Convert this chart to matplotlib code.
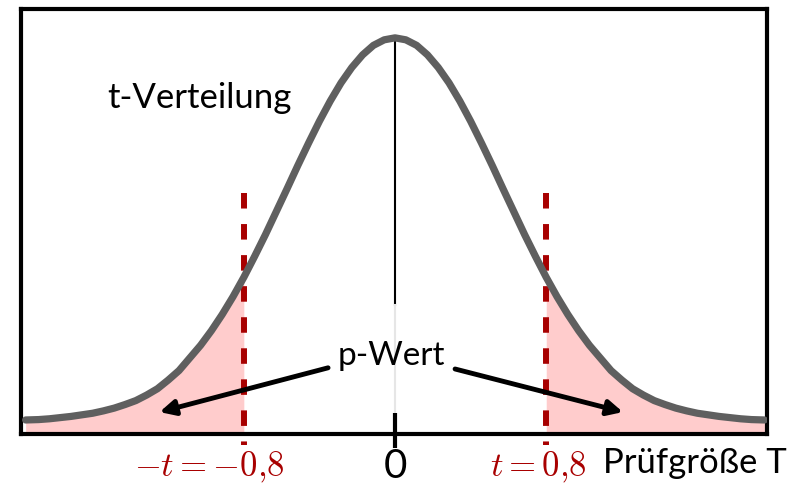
import numpy as np
import matplotlib
matplotlib.use("Agg")
import matplotlib.pyplot as plt

plt.rcParams["mathtext.fontset"] = "cm"
plt.rcParams["font.family"] = ["Lato", "DejaVu Sans"]

# sampling positions (right half, symmetric curve) and density
t_half = [0.0, 0.1, 0.2, 0.3, 0.4, 0.5, 0.6, 0.7, 0.8, 0.9, 1.0, 1.1, 1.2,
          1.3, 1.4, 1.5, 1.6, 1.7, 1.8, 1.9, 2.0, 2.1, 2.2, 2.3, 2.4, 2.5,
          2.6, 2.7, 2.8, 2.9, 3.0, 3.1, 3.2, 3.3, 3.42]
dens_half = [1.000, 0.995, 0.981, 0.957, 0.925, 0.886, 0.840, 0.789, 0.734,
             0.677, 0.618, 0.560, 0.502, 0.447, 0.394, 0.345, 0.300, 0.259,
             0.222, 0.190, 0.158, 0.134, 0.112, 0.096, 0.082, 0.072, 0.063,
             0.056, 0.050, 0.046, 0.042, 0.039, 0.036, 0.034, 0.033]

t_crit = 1.40          # position of the dashed lines
crit_labels = [r"$-t = -0{,}8$", r"$t = 0{,}8$"]

x = np.concatenate([-np.array(t_half[:0:-1]), t_half])
y = np.concatenate([dens_half[:0:-1], dens_half])

fig = plt.figure(figsize=(7.98, 4.86), dpi=100)
W, H = 798, 486
ax = fig.add_axes([21 / W, (H - 434) / H, 746 / W, 425 / H])
ax.set_xlim(-3.463, 3.444)
ax.set_ylim(-0.0025, 1.073)
ax.set_xticks([])
ax.set_yticks([])
for s in ax.spines.values():
    s.set_linewidth(3)
    s.set_color("black")

red = "#a80000"

# p-value tails
left = x <= -t_crit
right = x >= t_crit
ax.fill_between(x[left], 0, y[left], color="#ffcccc", lw=0, zorder=1)
ax.fill_between(x[right], 0, y[right], color="#ffcccc", lw=0, zorder=1)

# centre line
ax.plot([0, 0], [0.324, 1.0], color="black", lw=1.5, zorder=2)
ax.plot([0, 0], [0.05, 0.324], color="#e6e6e6", lw=1.5, zorder=2)
ax.plot([0, 0], [-0.038, 0.05], color="black", lw=3, zorder=5, clip_on=False,
        solid_capstyle="butt")

# critical values (drawn top-down so the pattern starts with a dash)
for xc in (-t_crit, t_crit):
    ax.plot([xc, xc], [0.608, -0.03], color=red, lw=4.3, zorder=3,
            dashes=(2.6, 2.6), dash_capstyle="butt", clip_on=False)

# distribution
ax.plot(x, y, color="#5f5f5f", lw=5.2, solid_capstyle="round", zorder=4)

ax.text(-1.81, 0.823, "t-Verteilung", fontsize=25, ha="center", va="baseline")
ax.text(-0.03, 0.172, "p-Wert", fontsize=24, ha="center", va="baseline", zorder=6)

arrow = dict(arrowstyle="-|>,head_length=0.9,head_width=0.45", color="black",
             lw=3.5, shrinkA=0, shrinkB=0)
ax.annotate("", xy=(-2.18, 0.053), xytext=(-0.62, 0.165), arrowprops=arrow, zorder=6)
ax.annotate("", xy=(2.11, 0.053), xytext=(0.556, 0.162), arrowprops=arrow, zorder=6)

ax.text(-1.72, -0.111, crit_labels[0], fontsize=25, color=red, ha="center",
        va="baseline", clip_on=False)
ax.text(1.33, -0.111, crit_labels[1], fontsize=25, color=red, ha="center",
        va="baseline", clip_on=False)
ax.text(0, -0.113, "0", fontsize=29, ha="center", va="baseline", clip_on=False)
ax.text(1.93, -0.101, "Prüfgröße T", fontsize=25, ha="left", va="baseline",
        clip_on=False)

fig.savefig("out.png", dpi=100)
